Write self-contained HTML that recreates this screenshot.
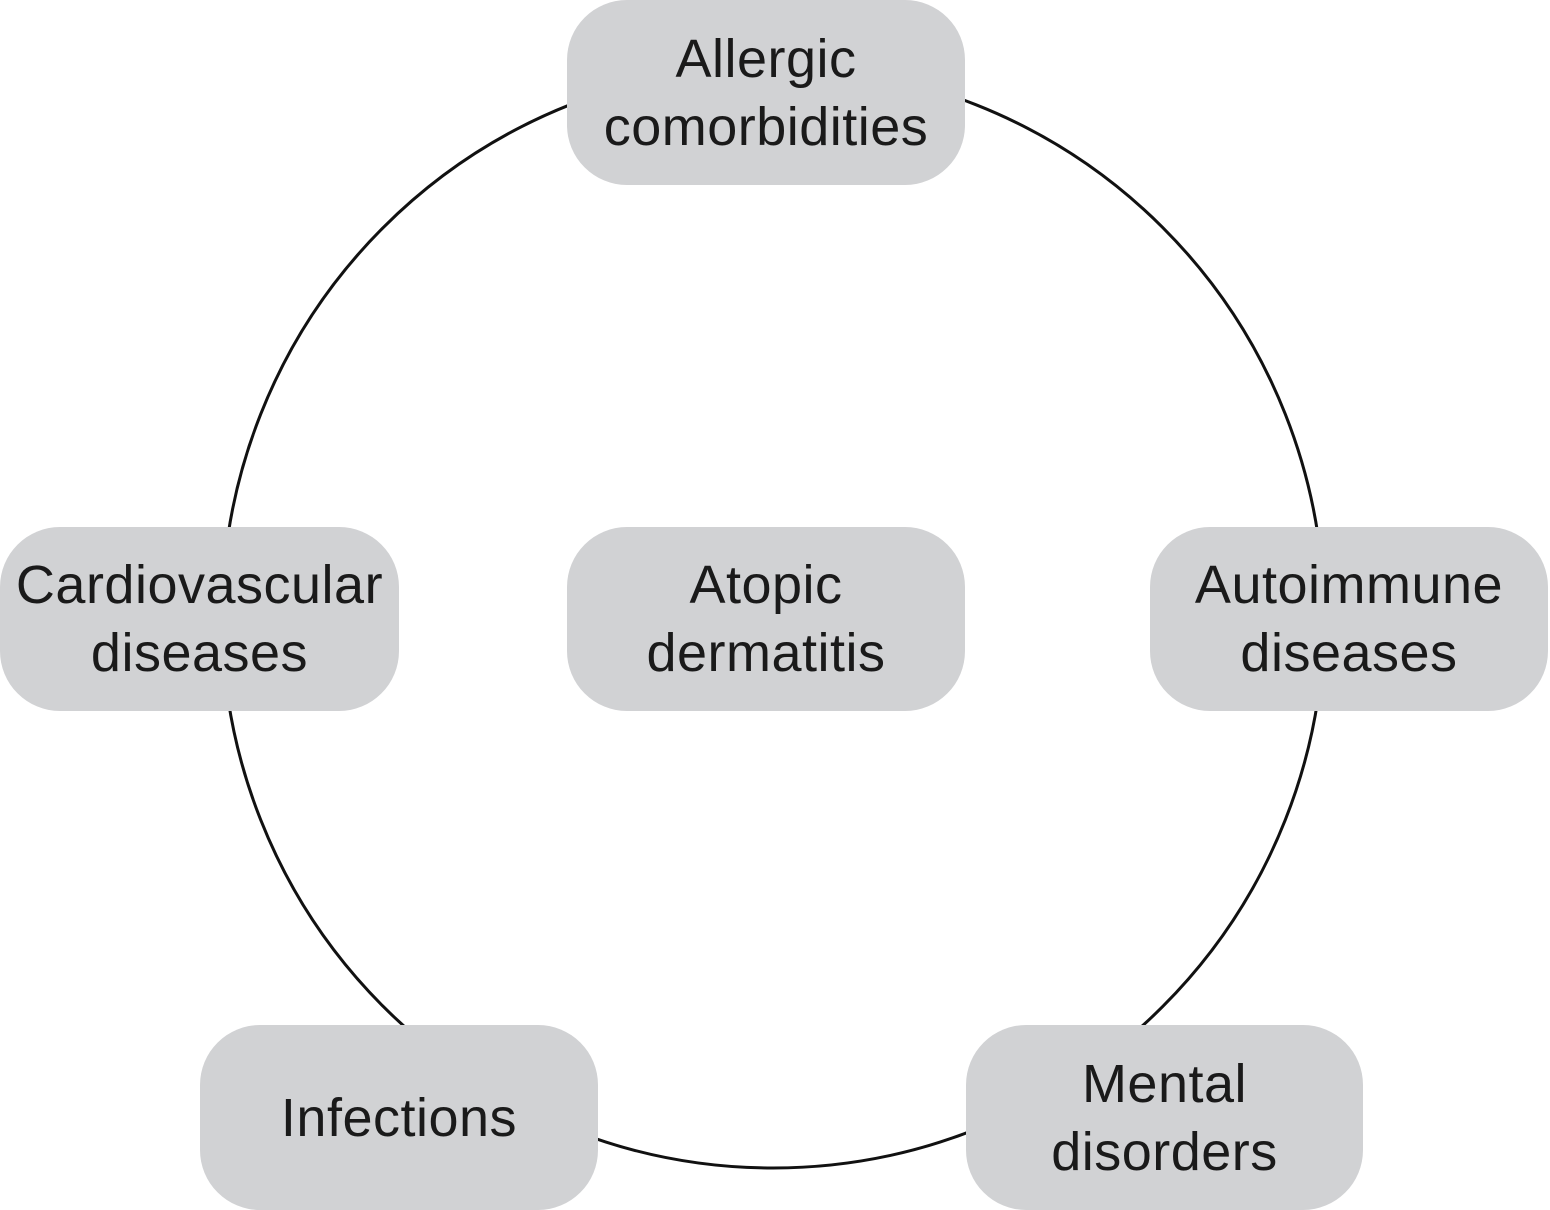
<!DOCTYPE html>
<html><head><meta charset="utf-8"><style>
html,body{margin:0;padding:0;background:#fff;width:1550px;height:1210px;overflow:hidden}
.b{position:absolute;background:#d1d2d4;border-radius:60px;display:flex;align-items:center;justify-content:center;text-align:center;font-family:"Liberation Sans",sans-serif;font-size:54px;letter-spacing:0.5px;line-height:68px;color:#1a1a1a}
</style></head><body>
<svg width="1550" height="1210" style="position:absolute;left:0;top:0">
<circle cx="773" cy="617" r="551" fill="none" stroke="#111" stroke-width="3"/>
</svg>
<div class="b" style="left:567px;top:0;width:398px;height:185px">Allergic<br>comorbidities</div>
<div class="b" style="left:567px;top:527px;width:398px;height:184px">Atopic<br>dermatitis</div>
<div class="b" style="left:0;top:527px;width:399px;height:184px">Cardiovascular<br>diseases</div>
<div class="b" style="left:1150px;top:527px;width:398px;height:184px">Autoimmune<br>diseases</div>
<div class="b" style="left:200px;top:1025px;width:398px;height:185px">Infections</div>
<div class="b" style="left:966px;top:1025px;width:397px;height:185px">Mental<br>disorders</div>
</body></html>
